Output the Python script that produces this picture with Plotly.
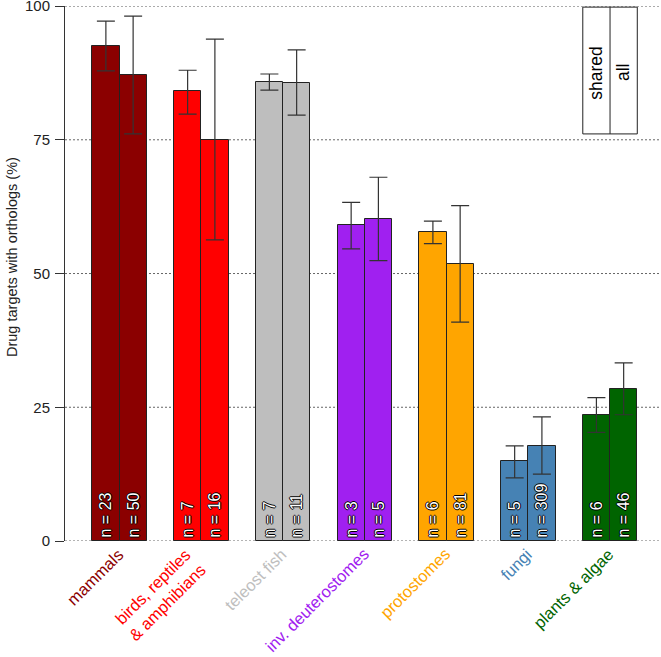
import plotly.graph_objects as go

categories = ["mammals", "birds, reptiles<br>& amphibians", "teleost fish",
              "inv. deuterostomes", "protostomes", "fungi", "plants & algae"]
cat_colors = ["#8B0000", "#FF0000", "#BEBEBE", "#A020F0", "#FFA500", "#4682B4", "#006400"]

shared_vals = [92.5, 84.1, 85.8, 59.0, 57.7, 15.0, 23.6]
shared_hi = [97.2, 88.0, 87.3, 63.3, 59.8, 17.8, 26.8]
shared_lo = [87.9, 79.8, 84.3, 54.6, 55.6, 11.8, 20.3]
shared_n = [23, 7, 7, 3, 6, 5, 6]

all_vals = [87.1, 75.0, 85.6, 60.2, 51.7, 17.8, 28.4]
all_hi = [98.1, 93.8, 91.8, 68.0, 62.7, 23.2, 33.3]
all_lo = [76.1, 56.3, 79.6, 52.4, 40.9, 12.5, 23.6]
all_n = [50, 16, 11, 5, 81, 309, 46]

y_ticks = [0, 25, 50, 75, 100]
legend_labels = ["shared", "all"]
y_title = "Drug targets with orthologs (%)"

# R barplot layout: beside=TRUE, space=c(0,1)
group_start = [1 + 3 * i for i in range(len(categories))]
x_shared = [g + 0.5 for g in group_start]
x_all = [g + 1.5 for g in group_start]
x_center = [g + 1.0 for g in group_start]

FONT = "Liberation Sans, Arial"
fig = go.Figure()

shadow = "1px 0 0 #000, -1px 0 0 #000, 0 1px 0 #000, 0 -1px 0 #000"

for xs, vals, hi, lo, ns in [(x_shared, shared_vals, shared_hi, shared_lo, shared_n),
                             (x_all, all_vals, all_hi, all_lo, all_n)]:
    fig.add_trace(go.Bar(
        x=xs, y=vals, width=1,
        marker=dict(color=cat_colors, line=dict(color="#222222", width=1)),
        error_y=dict(type="data", symmetric=False,
                     array=[h - v for h, v in zip(hi, vals)],
                     arrayminus=[v - l for v, l in zip(vals, lo)],
                     color="#333333", thickness=1.2, width=9),
        text=[f"n = {n}" for n in ns],
        textposition="inside", insidetextanchor="start", textangle=-90,
        textfont=dict(color="white", size=16, family=FONT, shadow=shadow),
        constraintext="none",
        showlegend=False, hoverinfo="skip",
    ))

# dotted gridlines
for t in y_ticks:
    fig.add_shape(type="line", xref="paper", yref="y", x0=0, x1=1, y0=t, y1=t,
                  line=dict(color="#666666", width=1, dash="2px,2px"), layer="below")

# category labels
for xc, lab, col in zip(x_center, categories, cat_colors):
    fig.add_annotation(x=xc + 0.37, y=-0.002, xref="x", yref="paper", text=lab,
                       textangle=-45, showarrow=False, xanchor="right", yanchor="top",
                       align="right",
                       font=dict(color=col, size=16.5, family=FONT))

# legend box
lx0 = group_start[-1]
fig.add_shape(type="rect", x0=lx0, x1=lx0 + 2, y0=76.1, y1=99.8,
              line=dict(color="#222222", width=1), fillcolor="white")
fig.add_shape(type="line", x0=lx0 + 1, x1=lx0 + 1, y0=76.1, y1=99.8,
              line=dict(color="#222222", width=1))
for i, lab in enumerate(legend_labels):
    fig.add_annotation(x=lx0 + 0.5 + i, y=87.6, text=lab, textangle=-90, showarrow=False,
                       font=dict(color="black", size=17.5, family=FONT))

# y-axis title
fig.add_annotation(x=-0.088, y=0.53, xref="paper", yref="paper", text=y_title,
                   textangle=-90, showarrow=False, xanchor="center", yanchor="middle",
                   font=dict(size=14.5, color="#222222", family=FONT))

fig.update_layout(
    width=661, height=657,
    margin=dict(l=65, r=0, t=6, b=116),
    plot_bgcolor="white", paper_bgcolor="white",
    bargap=0,
    uniformtext=dict(minsize=16, mode="show"),
    xaxis=dict(range=[0, 21.87], showgrid=False, zeroline=False, showticklabels=False,
               showline=False, ticks="", automargin=False),
    yaxis=dict(range=[0, 100.01], tickvals=y_ticks, ticktext=[str(t) for t in y_ticks],
               showgrid=False, zeroline=False, showline=True, linecolor="#333333",
               linewidth=1, ticks="outside", ticklen=9, tickcolor="#333333",
               ticklabelstandoff=2, ticklabeloverflow="allow",
               automargin=False,
               tickfont=dict(size=15, color="#222222", family=FONT)),
)

fig.write_html("out.html", config={"displayModeBar": False},
               post_script="document.body.style.margin='0';")
